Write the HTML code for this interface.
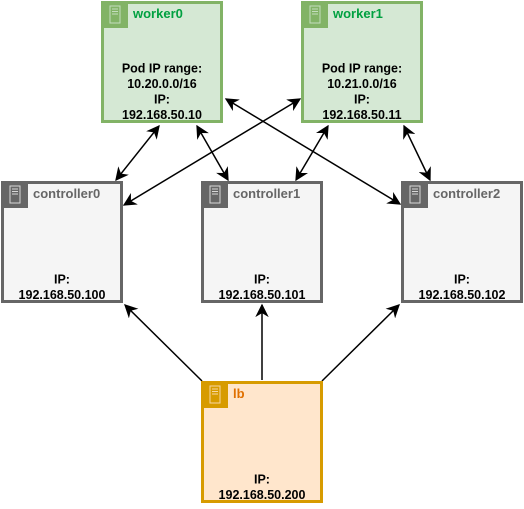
<!DOCTYPE html>
<html><head><meta charset="utf-8"><style>
body{margin:0;background:#fff;width:524px;height:504px;overflow:hidden;font-family:"Liberation Sans",sans-serif}
</style></head><body>
<svg width="524" height="504" viewBox="0 0 524 504">
<defs><marker id="ah" viewBox="0 0 10 10" refX="9" refY="5" markerWidth="9" markerHeight="9" orient="auto-start-reverse"><path d="M0,0L10,5L0,10L3,5z" fill="#000"/></marker></defs>
<g stroke="#000" stroke-width="1.5" fill="none" marker-start="url(#ah)" marker-end="url(#ah)">
<line x1="159" y1="126" x2="116" y2="180"/>
<line x1="197" y1="126" x2="228" y2="180"/>
<line x1="226" y1="99" x2="400" y2="204"/>
<line x1="300" y1="99" x2="124" y2="205"/>
<line x1="328" y1="126" x2="296" y2="180"/>
<line x1="404" y1="126" x2="430" y2="180"/>
</g>
<g stroke="#000" stroke-width="1.5" fill="none" marker-end="url(#ah)">
<line x1="202" y1="381" x2="125" y2="305"/>
<line x1="262" y1="380" x2="262" y2="305"/>
<line x1="322" y1="381" x2="399" y2="305"/>
</g>
<g font-size="12.5" font-weight="bold" text-anchor="middle" id="nodes"></g>
</svg>
<script>
const nodes=[
{n:'worker0',x:101,y:1,c:'#82b366',f:'#d5e8d4',t:'#00a040',lines:['Pod IP range:','10.20.0.0/16','IP:','192.168.50.10']},
{n:'worker1',x:301,y:1,c:'#82b366',f:'#d5e8d4',t:'#00a040',lines:['Pod IP range:','10.21.0.0/16','IP:','192.168.50.11']},
{n:'controller0',x:1,y:181,c:'#666666',f:'#f5f5f5',t:'#666',lines:['IP:','192.168.50.100']},
{n:'controller1',x:201,y:181,c:'#666666',f:'#f5f5f5',t:'#666',lines:['IP:','192.168.50.101']},
{n:'controller2',x:401,y:181,c:'#666666',f:'#f5f5f5',t:'#666',lines:['IP:','192.168.50.102']},
{n:'lb',x:201,y:381,c:'#d79b00',f:'#ffe6cc',t:'#e07000',lines:['IP:','192.168.50.200']}];
const g=document.getElementById('nodes');const NS='http://www.w3.org/2000/svg';
function mk(t,a,p){const e=document.createElementNS(NS,t);for(const k in a)e.setAttribute(k,a[k]);p.appendChild(e);return e;}
nodes.forEach(d=>{
 const grp=mk('g',{},g);
 
 
 mk('rect',{x:d.x+1.5,y:d.y+1.5,width:119,height:119,fill:d.f,stroke:d.c,'stroke-width':3},grp);
 mk('rect',{x:d.x,y:d.y,width:27,height:27,fill:d.c},grp);
 mk('rect',{x:d.x+9,y:d.y+5,width:10,height:17,fill:'none',stroke:d.f,'stroke-width':1,opacity:0.8},grp);
 for(let i=0;i<3;i++)mk('line',{x1:d.x+11,x2:d.x+17,y1:d.y+8+i*2.5,y2:d.y+8+i*2.5,stroke:d.f,'stroke-width':1,opacity:0.8},grp);
 const tt=mk('text',{x:d.x+32,y:d.y+17,fill:d.t,'text-anchor':'start','font-size':13},grp);tt.textContent=d.n;
 
 
 const n=d.lines.length;
 d.lines.forEach((l,i)=>{const e=mk('text',{x:d.x+61,y:d.y+118-(n-1-i)*15.5,fill:'#000'},grp);e.textContent=l;
 
 });
});
</script>
</body></html>
